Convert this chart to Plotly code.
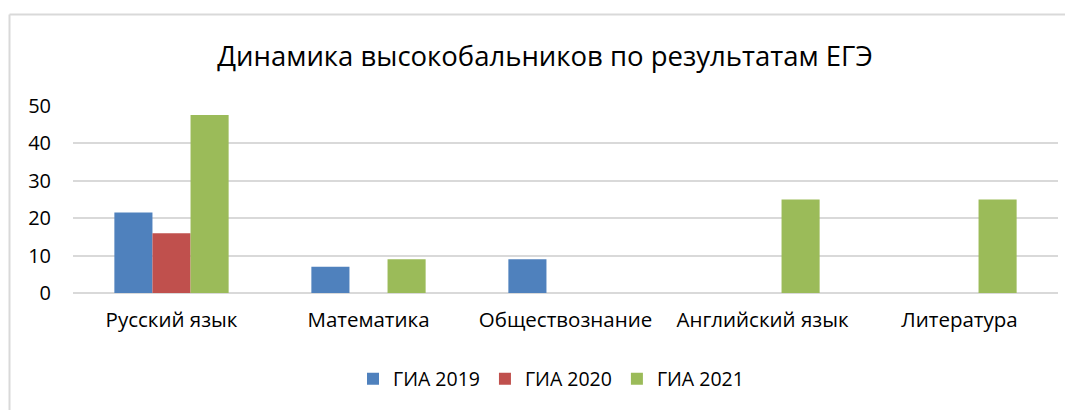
import plotly.graph_objects as go

categories = ["Русский язык", "Математика", "Обществознание", "Английский язык", "Литература"]
gia_2019 = [21.5, 7, 9, 0, 0]
gia_2020 = [16, 0, 0, 0, 0]
gia_2021 = [47.6, 9, 0, 25, 25]
series_names = ["ГИА 2019", "ГИА 2020", "ГИА 2021"]
colors = ["#4F81BD", "#C0504D", "#9BBB59"]
y_ticks = [0, 10, 20, 30, 40, 50]

FONT = "Open Sans"
OFF = 8  # page body margin
W, H = 1073 - OFF, 410 - OFF
# target page pixel positions
PL, PR, PT, PB = 73, 1058, 105.5, 293.5
L, T = PL - OFF, PT - OFF
R = W - (PR - OFF)
B = H - (PB - OFF)

fig = go.Figure()
for name, vals, col in zip(series_names, [gia_2019, gia_2020, gia_2021], colors):
    fig.add_trace(go.Bar(
        x=categories, y=vals, name=name,
        marker=dict(color=col, line=dict(width=0)),
    ))

pw = PR - PL
ph = PB - PT

def px_x(x):
    return (x - PL) / pw

def px_y(y):
    return (PB - y) / ph

fig.update_layout(
    width=W, height=H,
    margin=dict(l=L, r=R, t=T, b=B, autoexpand=False),
    paper_bgcolor="white", plot_bgcolor="white",
    barmode="group", bargap=0.42, bargroupgap=0,
    font=dict(family=FONT, color="#000000", size=20),
    title=dict(text="Динамика высокобальников по результатам ЕГЭ",
               x=(545 - OFF) / W, xanchor="center", y=1 - (56 - OFF) / H, yanchor="middle",
               font=dict(family=FONT, size=27.5, color="#000000")),
    xaxis=dict(showgrid=False, showline=False, ticks="", ticklabelstandoff=12, automargin=False,
               tickfont=dict(size=20.5, family=FONT, color="#000000")),
    yaxis=dict(range=[0, 50], tickvals=y_ticks, showgrid=True, gridcolor="#d9d9d9",
               gridwidth=1.5, zeroline=True, zerolinecolor="#d9d9d9", zerolinewidth=1.5,
               showline=False, ticks="", ticklabelstandoff=21, automargin=False,
               tickfont=dict(size=20, family=FONT, color="#000000")),
    legend=dict(orientation="h", x=px_x(551), xanchor="center", y=px_y(380), yanchor="middle",
                font=dict(size=19.5, family=FONT, color="#000000"), itemwidth=30,
                traceorder="normal"),
    showlegend=True,
)

# chart outer border (left and top visible)
fig.add_shape(type="line", xref="paper", yref="paper",
              x0=px_x(9.5), x1=px_x(1080), y0=px_y(13.5), y1=px_y(13.5),
              line=dict(color="#d9d9d9", width=2))
fig.add_shape(type="line", xref="paper", yref="paper",
              x0=px_x(9.5), x1=px_x(9.5), y0=px_y(13.5), y1=px_y(420),
              line=dict(color="#d9d9d9", width=2))

fig.write_html("out.html")
